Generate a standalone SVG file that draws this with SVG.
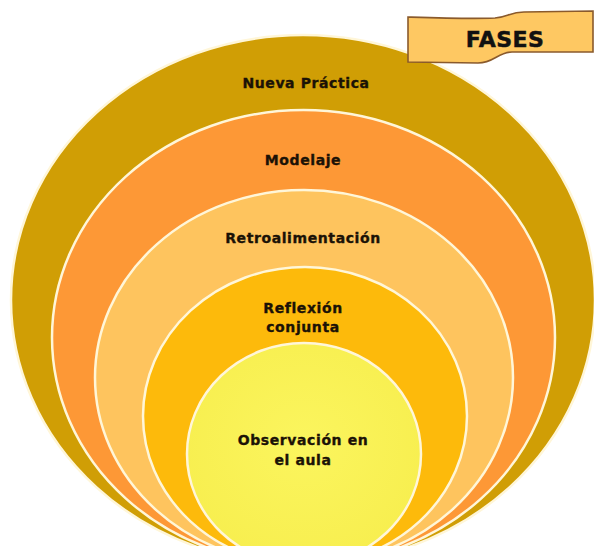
<svg xmlns="http://www.w3.org/2000/svg" width="594" height="546" viewBox="0 0 594 546">
<defs>
<radialGradient id="gInner" cx="50%" cy="45%" r="60%">
<stop offset="0" stop-color="#FBF55E"/>
<stop offset="1" stop-color="#F7EE4E"/>
</radialGradient>
</defs>
<style>
.ring{stroke:#FFF6D8;stroke-width:2.5}
.lbl{font-family:"DejaVu Sans",sans-serif;font-weight:bold;font-size:14px;fill:#1b1206;stroke:#1b1206;stroke-width:0.35;text-anchor:middle;letter-spacing:0.6px}
.ban{font-family:"DejaVu Sans",sans-serif;font-weight:bold;font-size:22px;fill:#111;stroke:#111;stroke-width:0.5;text-anchor:middle;letter-spacing:0.5px}
</style>
<rect width="594" height="546" fill="#ffffff"/>
<g id="nueva-practica">
<ellipse class="ring" cx="303" cy="300" rx="292" ry="265" fill="#D09E05"/>
<text class="lbl" x="306" y="88">Nueva Práctica</text>
</g>
<g id="modelaje">
<ellipse class="ring" cx="303.5" cy="337.5" rx="251.5" ry="227.5" fill="#FD9836"/>
<text class="lbl" x="303" y="165">Modelaje</text>
</g>
<g id="retroalimentacion">
<ellipse class="ring" cx="304" cy="377.5" rx="209" ry="187.5" fill="#FEC45E"/>
<text class="lbl" x="303" y="243">Retroalimentación</text>
</g>
<g id="reflexion-conjunta">
<ellipse class="ring" cx="305" cy="416" rx="162" ry="149" fill="#FDBA0B"/>
<text class="lbl" x="303" y="313">Reflexión</text>
<text class="lbl" x="303" y="332">conjunta</text>
</g>
<g id="observacion">
<ellipse class="ring" cx="304" cy="454" rx="117" ry="111" fill="url(#gInner)"/>
<text class="lbl" x="303" y="445">Observación en</text>
<text class="lbl" x="303" y="465">el aula</text>
</g>
<g id="fases">
<path d="M408,17 C440,18 470,19 495,18 C508,17 510,12 524,12 L593,11 L593,52 L512,52 C498,52 494,63 478,63 L408,62 Z" fill="#FEC862" stroke="#8A5A2C" stroke-width="1.6"/>
<text class="ban" x="505" y="47">FASES</text>
</g>
<g id="connectors"/>
</svg>
